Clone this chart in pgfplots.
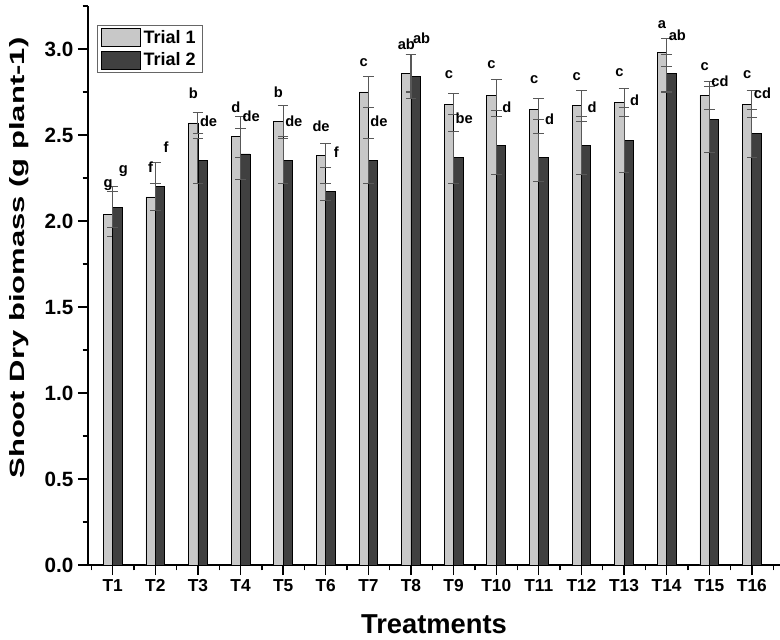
\documentclass[border=0pt]{standalone}
\usepackage{fontspec}
\setmainfont{Liberation Sans}
\usepackage{graphicx}
\usepackage{pgfplots}
\usepackage{pgfplotstable}
\pgfplotsset{compat=1.18}
\definecolor{tone}{HTML}{C8C8C8}
\definecolor{ttwo}{HTML}{404040}
\definecolor{errc}{HTML}{585858}

\pgfplotstableread{
x  y1   e1   y2   e2   l1 l2 ly1  ly2
1  2.04 0.13 2.08 0.12 g  g  2.21 2.29
2  2.14 0.08 2.20 0.14 f  f  2.31 2.43
3  2.57 0.06 2.35 0.13 b  de 2.74 2.58
4  2.49 0.12 2.39 0.15 d  de 2.66 2.61
5  2.58 0.09 2.35 0.13 b  de 2.75 2.58
6  2.38 0.07 2.17 0.05 de f  2.55 2.40
7  2.75 0.09 2.35 0.13 c  de 2.92 2.58
8  2.86 0.11 2.84 0.13 ab ab 3.03 3.06
9  2.68 0.06 2.37 0.15 c  be 2.85 2.60
10 2.73 0.09 2.44 0.17 c  d  2.91 2.66
11 2.65 0.06 2.37 0.14 c  d  2.82 2.59
12 2.67 0.09 2.44 0.17 c  d  2.84 2.66
13 2.69 0.08 2.47 0.19 c  d  2.86 2.70
14 2.98 0.08 2.86 0.11 a  ab 3.14 3.08
15 2.73 0.08 2.59 0.19 c  cd 2.90 2.81
16 2.68 0.08 2.51 0.14 c  cd 2.85 2.74
}\datatab

\pgfplotsset{barleg/.style={legend image code/.code={\draw[##1] (0pt,-6.75pt) rectangle (29pt,6.75pt);}}}

\begin{document}
\begin{tikzpicture}
\begin{axis}[
  scale only axis, width=519pt, height=419.25pt,
  xmin=0.42, xmax=16.66, ymin=0, ymax=3.25,
  axis x line*=bottom, axis y line*=left,
  axis line style={line width=1.1pt, black},
  xtick={1,...,16},
  xticklabels={T1,T2,T3,T4,T5,T6,T7,T8,T9,T10,T11,T12,T13,T14,T15,T16},
  minor xtick={0.5,1.5,...,16.5},
  ytick={0,0.5,1,1.5,2,2.5,3},
  minor ytick={0.25,0.75,1.25,1.75,2.25,2.75,3.25},
  tick align=outside,
  major tick length=7.5pt, minor tick length=4pt,
  every tick/.style={black, line width=1pt},
  /pgf/number format/fixed,
  /pgf/number format/fixed zerofill,
  /pgf/number format/precision=1,
  /pgf/number format/assume math mode=true,
  xticklabel style={font=\bfseries\fontsize{13}{15}\selectfont},
  yticklabel style={font=\bfseries\fontsize{15.5}{18}\selectfont},
  xlabel={Treatments},
  xlabel style={at={(axis description cs:0.5,-0.0877)}, anchor=north, inner sep=0pt,
    font=\bfseries\fontsize{20.5}{23}\selectfont},
  ylabel={\scalebox{1.5}[1]{Shoot Dry biomass (g plant-1)}},
  ylabel style={at={(axis description cs:-0.099,0.549)}, anchor=center,
    font=\bfseries\fontsize{15.5}{18}\selectfont},
  legend style={at={(rel axis cs:0.013,0.966)}, anchor=north west,
    draw=gray!80!black, line width=0.6pt,
    font=\bfseries\fontsize{13.5}{16}\selectfont,
    inner xsep=3pt, inner ysep=1.5pt, row sep=1.5pt},
  legend cell align=left,
]
\addplot[ybar, bar width=0.22, bar shift=-0.11, fill=tone, draw=black, line width=0.6pt, barleg,
  error bars/.cd, y dir=both, y explicit,
  error bar style={errc, line width=0.8pt},
  error mark options={errc, rotate=90, mark size=4pt, line width=0.8pt}]
  table[x=x, y=y1, y error=e1]{\datatab};
\addplot[ybar, bar width=0.22, bar shift=0.11, fill=ttwo, draw=black, line width=0.6pt, barleg,
  error bars/.cd, y dir=both, y explicit,
  error bar style={errc, line width=0.8pt},
  error mark options={errc, rotate=90, mark size=4pt, line width=0.8pt}]
  table[x=x, y=y2, y error=e2]{\datatab};
\addplot[draw=none, forget plot, nodes near coords, point meta=explicit symbolic,
  nodes near coords style={anchor=center, inner sep=0pt, text=black,
    font=\bfseries\fontsize{11}{13}\selectfont}]
  table[x expr=\thisrow{x}-0.11, y=ly1, meta=l1]{\datatab};
\addplot[draw=none, forget plot, nodes near coords, point meta=explicit symbolic,
  nodes near coords style={anchor=center, inner sep=0pt, text=black,
    font=\bfseries\fontsize{11}{13}\selectfont}]
  table[x expr=\thisrow{x}+0.25, y=ly2, meta=l2]{\datatab};
\legend{Trial 1, Trial 2}
\end{axis}
\pgfresetboundingbox
\path[use as bounding box] ([xshift=-66pt,yshift=-55.5pt]current axis.south west) rectangle ([yshift=4.5pt]current axis.north east);
\end{tikzpicture}
\end{document}
